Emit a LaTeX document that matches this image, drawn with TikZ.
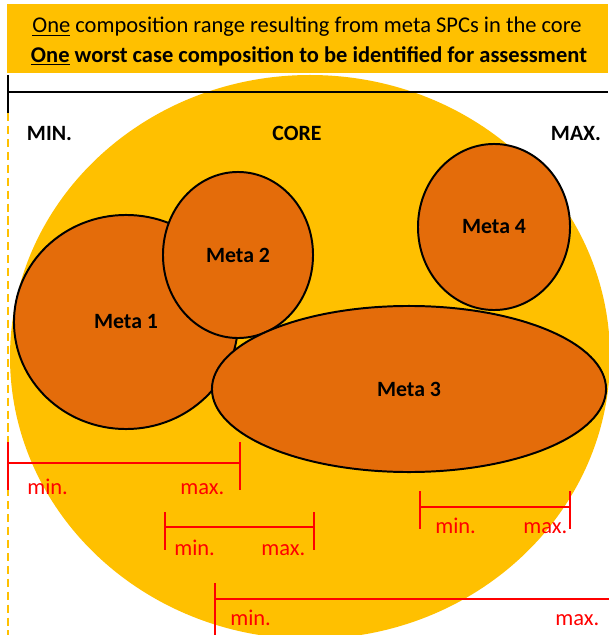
\documentclass[tikz,border=0pt]{standalone}
\usepackage{fontspec}
\setmainfont{Carlito}
\usepackage{xcolor}
\usetikzlibrary{shapes.geometric}
\definecolor{coreYellow}{HTML}{FFC000}
\definecolor{metaOrange}{HTML}{E46C0A}
\definecolor{rangeRed}{HTML}{FF0000}

\begin{document}
\begin{tikzpicture}[x=0.025cm,y=-0.025cm]
    \tikzset{
        meta/.style={ellipse,fill=metaOrange,draw=black,line width=1.4pt,inner sep=0pt,
            font=\bfseries\fontsize{15.5}{18}\selectfont},
        axislabel/.style={font=\bfseries\fontsize{15.5}{18}\selectfont},
        titletext/.style={font=\fontsize{16}{19}\selectfont},
        rangebar/.style={rangeRed,line width=2pt},
        rangelabel/.style={rangeRed,inner sep=0pt,font=\fontsize{16}{19}\selectfont}
    }
    \useasboundingbox (0,0) rectangle (608,635);
    % heading band
    \fill[coreYellow] (7,4) rectangle (608,73);
    \node[titletext] (title1) at (307,27) {\underline{One} composition range resulting from meta SPCs in the core};
    \node[titletext,font=\bfseries\fontsize{16}{19}\selectfont] (title2) at (309,56) {\underline{One} worst case composition to be identified for assessment};
    % axis
    \coordinate (axisL) at (8,92);
    \coordinate (axisR) at (608,92);
    \coordinate (tickT) at (8,75);
    \coordinate (tickB) at (8,113);
    \coordinate (dashB) at (8,635);
    \draw[coreYellow,line width=1.6pt,dash pattern=on 5.7pt off 3.5pt] (tickB) -- (dashB);
    % core
    \fill[coreYellow] (310,357) ellipse [x radius=300,y radius=282];
    \draw[line width=1.4pt] (axisL) -- (axisR);
    \draw[line width=1.4pt] (tickT) -- (tickB);
    \node[axislabel,anchor=base west] (minlabel) at (22,141) {MIN.};
    \node[axislabel,anchor=base] (corelabel) at (297,141) {CORE};
    \node[axislabel,anchor=base east] (maxlabel) at (606,141) {MAX.};
    % metas
    \node[meta,minimum width=5.6cm,minimum height=5.35cm] (meta1) at (126,322) {Meta 1};
    \node[meta,minimum width=3.75cm,minimum height=4.15cm] (meta2) at (238,255) {Meta 2};
    \node[meta,minimum width=9.85cm,minimum height=4.15cm] (meta3) at (409,389) {Meta 3};
    \node[meta,minimum width=3.8cm,minimum height=4.15cm] (meta4) at (494,227) {Meta 4};
    % ranges
    \foreach \n/\a/\b/\y/\t/\u in {1/8/240/463/442/490,2/165/314/527/512/550,3/420/570/507/491/529}{
        \coordinate (r\n min) at (\a,\y);
        \coordinate (r\n max) at (\b,\y);
        \draw[rangebar] (r\n min) -- (r\n max);
        \draw[rangebar] (\a,\t) -- (\a,\u);
        \draw[rangebar] (\b,\t) -- (\b,\u);
    }
    \coordinate (r4min) at (215,599);
    \coordinate (r4max) at (610,599);
    \draw[rangebar] (r4min) -- (r4max);
    \draw[rangebar] (215,583) -- (215,635);
    \node[rangelabel,anchor=base west] (r1lo) at (27,494) {min.};
    \node[rangelabel,anchor=base west] (r1hi) at (180,494) {max.};
    \node[rangelabel,anchor=base west] (r2lo) at (174,555) {min.};
    \node[rangelabel,anchor=base west] (r2hi) at (261,555) {max.};
    \node[rangelabel,anchor=base west] (r3lo) at (435,533) {min.};
    \node[rangelabel,anchor=base west] (r3hi) at (523,533) {max.};
    \node[rangelabel,anchor=base west] (r4lo) at (230,625) {min.};
    \node[rangelabel,anchor=base west] (r4hi) at (555,625) {max.};
\end{tikzpicture}
\end{document}
